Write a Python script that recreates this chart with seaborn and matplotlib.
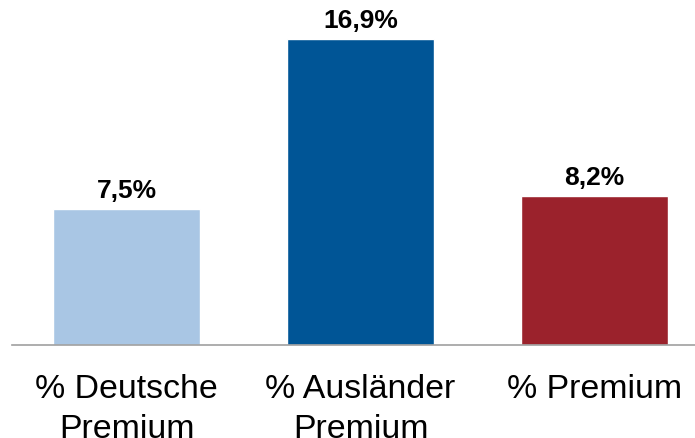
import numpy as np
import pandas as pd
import matplotlib
matplotlib.use("Agg")
import matplotlib.pyplot as plt
import seaborn as sb

categories = ["% Deutsche\nPremium", "% Ausländer\nPremium", "% Premium"]
values = [7.5, 16.9, 8.2]
value_labels = ["7,5%", "16,9%", "8,2%"]
colors = ["#A9C6E4", "#005596", "#9B222C"]

df = pd.DataFrame({"cat": categories, "val": values})

sb.set_style("white")
plt.rcParams["font.family"] = ["Liberation Sans", "DejaVu Sans"]

fig = plt.figure(figsize=(6.95, 4.39), dpi=100)
ax = fig.add_axes([12 / 695, 93 / 439, 683 / 695, 346 / 439])
sb.barplot(data=df, x="cat", y="val", hue="cat", palette=colors, legend=False,
           width=0.63, saturation=1, ax=ax)

for i, (v, lab) in enumerate(zip(values, value_labels)):
    ax.text(i, v + 0.4, lab, ha="center", va="bottom", fontsize=19,
            fontweight="bold", color="black")

ax.set_xlim(-0.49, 2.43)
ax.set_ylim(0, 19.1)
ax.set_xlabel("")
ax.set_ylabel("")
ax.set_yticks([])
for s in ["top", "left", "right"]:
    ax.spines[s].set_visible(False)
ax.spines["bottom"].set_color("#A0A0A0")
ax.spines["bottom"].set_linewidth(1.2)
ax.tick_params(axis="x", length=0, pad=20, labelsize=24.4, labelcolor="black")
for t in ax.get_xticklabels():
    t.set_linespacing(1.38)

fig.savefig("out.png", dpi=100)
